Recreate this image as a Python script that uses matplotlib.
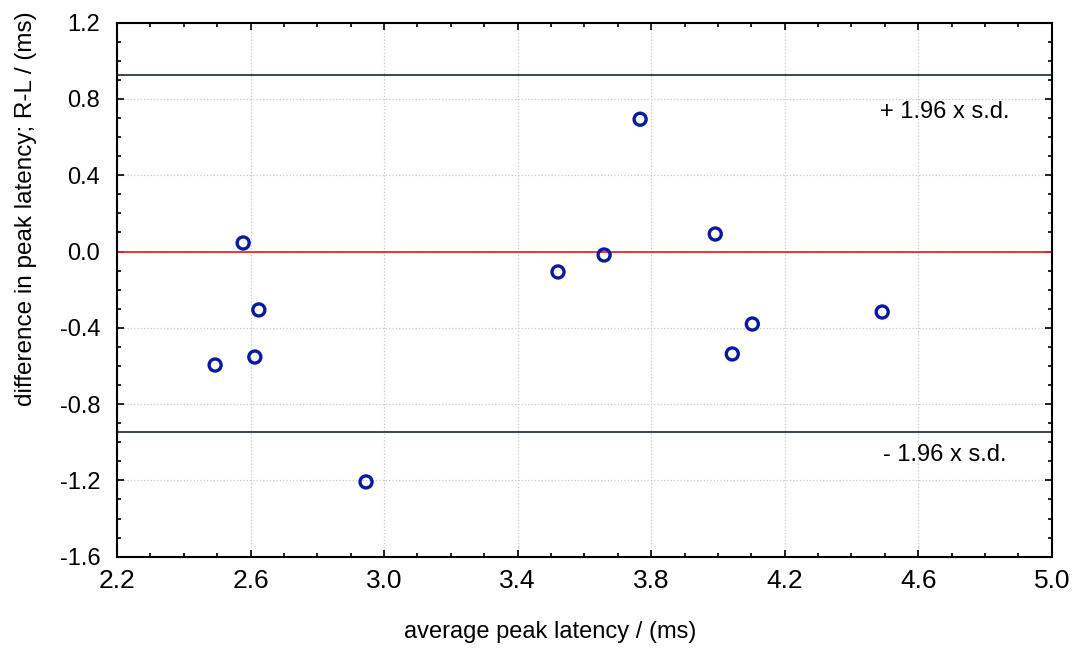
import numpy as np
import matplotlib.pyplot as plt
from matplotlib.ticker import MultipleLocator, FormatStrFormatter

plt.rcParams['font.family'] = ['Liberation Sans', 'DejaVu Sans']

avg_latency = [2.578, 2.625, 2.613, 2.494, 2.946, 3.521, 3.659, 3.767, 3.992, 4.043, 4.103, 4.492]
diff_latency = [0.045, -0.306, -0.553, -0.595, -1.208, -0.107, -0.018, 0.694, 0.092, -0.537, -0.38, -0.317]
mean_diff = 0.0
upper_limit = 0.926
lower_limit = -0.946
x_ticks = [2.2, 2.6, 3.0, 3.4, 3.8, 4.2, 4.6, 5.0]
y_ticks = [-1.6, -1.2, -0.8, -0.4, 0.0, 0.4, 0.8, 1.2]

fig = plt.figure(figsize=(10.77, 6.51), dpi=100)
ax = fig.add_axes([0.1086, 0.1449, 0.868, 0.8202])

ax.axhline(mean_diff, color='#e42a2a', lw=1.3, zorder=2)
ax.axhline(upper_limit, color='#2a3a40', lw=1.3, zorder=2)
ax.axhline(lower_limit, color='#2a3a40', lw=1.3, zorder=2)
ax.scatter(avg_latency, diff_latency, s=75, facecolors='none', edgecolors='#0a1aa0', linewidths=2.4, zorder=3)

ax.text(4.678, 0.732, "+ 1.96 x s.d.", ha='center', va='center', fontsize=17)
ax.text(4.678, -1.067, "- 1.96 x s.d.", ha='center', va='center', fontsize=17)

ax.set_xlim(2.2, 5.0)
ax.set_ylim(-1.6, 1.2)
ax.set_xticks(x_ticks)
ax.set_yticks(y_ticks)
ax.xaxis.set_minor_locator(MultipleLocator(0.1))
ax.yaxis.set_minor_locator(MultipleLocator(0.1))
ax.xaxis.set_major_formatter(FormatStrFormatter('%.1f'))
ax.yaxis.set_major_formatter(FormatStrFormatter('%.1f'))
ax.tick_params(which='both', direction='in', top=True, right=True, width=1.2)
ax.tick_params(which='major', length=5)
ax.tick_params(which='minor', length=3)
ax.tick_params(axis='x', labelsize=19, pad=9)
ax.tick_params(axis='y', labelsize=17, pad=12)
ax.grid(True, which='major', color='#c8c8c8', linestyle=':', lw=0.9)
for s in ax.spines.values():
    s.set_linewidth(1.5)

ax.set_xlabel("average peak latency / (ms)", fontsize=17)
ax.set_ylabel("difference in peak latency; R-L / (ms)", fontsize=17.5)
ax.xaxis.set_label_coords(0.463, -0.12)
ax.yaxis.set_label_coords(-0.086, 0.652)

fig.savefig("out.png", dpi=100)
